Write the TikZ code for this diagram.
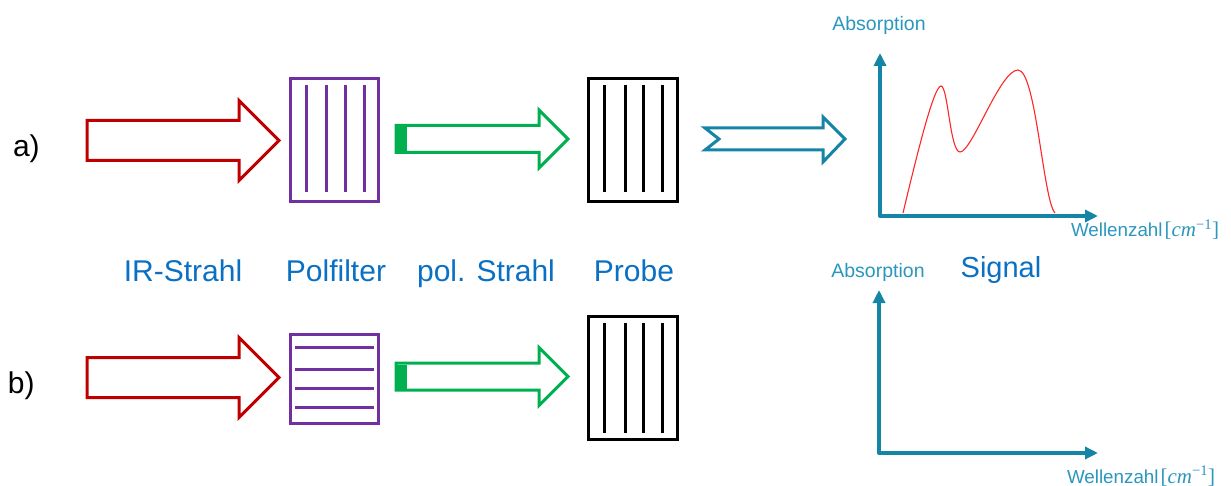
\documentclass[tikz,border=0pt]{standalone}
\usepackage{fontspec}
\setmainfont{Liberation Sans}
\newfontfamily\unitfont{Liberation Serif}
\usetikzlibrary{shapes.arrows,arrows.meta,calc,positioning}

\definecolor{irred}{HTML}{C00000}
\definecolor{polpurple}{HTML}{7030A0}
\definecolor{polgreen}{HTML}{00B050}
\definecolor{sigteal}{HTML}{1585A5}
\definecolor{axtext}{HTML}{2A97BE}
\definecolor{lblblue}{HTML}{0A70C4}

% wave number unit
\newcommand{\wnunit}{\kern2pt{\unitfont\fontsize{21}{24}\selectfont[\textit{cm}\textsuperscript{−1}]}}

\begin{document}
\begin{tikzpicture}[x=1pt,y=-1pt,
  every node/.style={inner sep=0pt, outer sep=0pt},
  beam/.style={single arrow, line width=3pt, minimum width=0pt, inner xsep=0pt, anchor=tail, line join=miter},
  irbeam/.style={beam, draw=irred, inner ysep=18.5pt, minimum height=192pt, single arrow head extend=20pt},
  polbeam/.style={beam, draw=polgreen, inner ysep=12pt, minimum height=172pt, single arrow head extend=15.5pt},
  sigbeam/.style={draw=sigteal, line width=3pt, line join=miter},
  filterbox/.style={draw=polpurple, line width=3pt, minimum width=88pt, minimum height=123pt},
  filterline/.style={draw=polpurple, line width=3pt},
  probebox/.style={draw=black, line width=3pt, minimum width=89pt, minimum height=123pt},
  probeline/.style={draw=black, line width=3pt},
  axis/.style={draw=sigteal, line width=4pt, line join=round,
    {Triangle[length=13pt,width=12pt]}-{Triangle[length=13pt,width=12pt]}},
  spectrum/.style={draw=red!85!white, line width=1.1pt},
  tag/.style={font=\fontsize{30}{36}\selectfont, text=black},
  lbl/.style={font=\fontsize{30}{36}\selectfont, text=lblblue},
  axlbl/.style={font=\fontsize{19.5}{23}\selectfont, text=axtext},
  wnlbl/.style={font=\fontsize{18.8}{23}\selectfont, text=axtext}
]
\fill[white] (0,0) rectangle (1231,486);
\useasboundingbox (0,0) rectangle (1231,486);

% row labels
\node[tag, anchor=base west] (tag-a) at (13,157) {a)};
\node[tag, anchor=base west] (tag-b) at (8,393) {b)};

% filters and samples
\node[filterbox] (pol-a) at (334,140.5) {};
\node[probebox] (probe-a) at (632.5,140.5) {};
\node[filterbox, minimum height=89pt] (pol-b) at (334,378.5) {};
\node[probebox] (probe-b) at (632.5,377.5) {};

\foreach \x in {16,36,55,74}
  \draw[filterline] ($(pol-a.north west)+(\x,6)$) -- ($(pol-a.south west)+(\x,-10)$);
\foreach \y in {13,35,54,73}
  \draw[filterline] ($(pol-b.north west)+(5,\y)$) -- ($(pol-b.north east)+(-4,\y)$);
\foreach \x in {16,37,55,74} {
  \draw[probeline] ($(probe-a.north west)+(\x,6)$) -- ($(probe-a.south west)+(\x,-10)$);
  \draw[probeline] ($(probe-b.north west)+(\x,7)$) -- ($(probe-b.south west)+(\x,-6)$);
}

% beams
\node[irbeam] (ir-a) at (87,140.5) {};
\node[irbeam] (ir-b) at (87,377.5) {};
\node[polbeam] (pb-a) at (396,139) {};
\node[polbeam] (pb-b) at (396,376.5) {};
\fill[polgreen] ($(pb-a.tail)+(0,-12)$) rectangle ($(pb-a.tail)+(11,12)$);
\fill[polgreen] ($(pb-b.tail)+(0,-12)$) rectangle ($(pb-b.tail)+(11,12)$);

\coordinate (sig-a) at (705,139);
\draw[sigbeam] (sig-a) +(0,-11) -- +(118,-11) -- +(118,-22) -- +(140,0)
  -- +(118,23) -- +(118,11) -- +(0,11) -- +(14,0) -- cycle;

% spectra
\coordinate (orig-a) at (880,216);
\coordinate (yax-a) at (880,53);
\coordinate (xax-a) at (1098,216);
\draw[axis] (yax-a) -- (orig-a) -- (xax-a);
\draw[spectrum] (903,213) .. controls (918,150) and (934,86) .. (941,86)
  .. controls (948,86) and (950,152) .. (960,152)
  .. controls (972,152) and (1000,70) .. (1018,70)
  .. controls (1036,70) and (1043,200) .. (1055,213);

\coordinate (orig-b) at (879,453);
\coordinate (yax-b) at (879,290);
\coordinate (xax-b) at (1098,453);
\draw[axis] (yax-b) -- (orig-b) -- (xax-b);

\node[axlbl, anchor=base] (abs-a) at (879,31) {Absorption};
\node[wnlbl, anchor=base west] (wn-a) at (1071,237) {Wellenzahl\wnunit};
\node[axlbl, anchor=base] (abs-b) at (878,277) {Absorption};
\node[wnlbl, anchor=base west] (wn-b) at (1067,483) {Wellenzahl\wnunit};

% captions
\node[lbl, anchor=base] (lbl-ir) at (183,282) {IR-Strahl};
\node[lbl, anchor=base] (lbl-pol) at (336,282) {Polfilter};
\node[lbl, anchor=base] (lbl-pb) at (486,282) {pol. Strahl};
\node[lbl, anchor=base] (lbl-probe) at (634,282) {Probe};
\node[lbl, font=\fontsize{29}{35}\selectfont, anchor=base] (signal) at (1001,278) {Signal};
\end{tikzpicture}
\end{document}
